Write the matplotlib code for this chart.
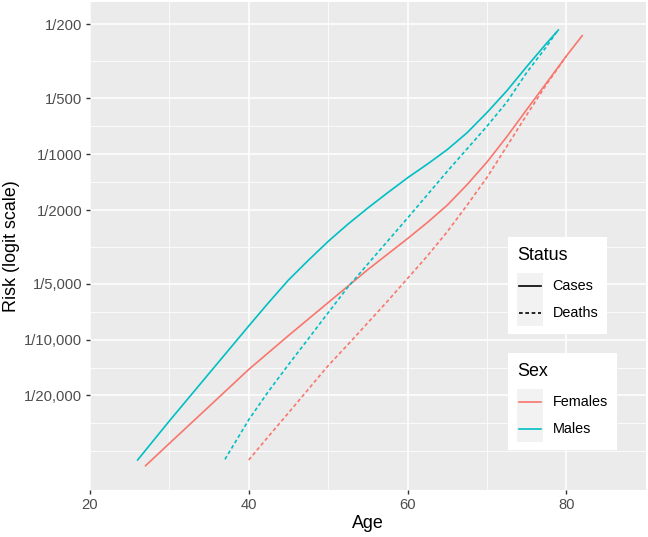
import numpy as np
import matplotlib
matplotlib.use("Agg")
import matplotlib.pyplot as plt
from matplotlib.lines import Line2D
from matplotlib.patches import Rectangle
from matplotlib.ticker import FixedLocator, FixedFormatter, NullFormatter

plt.rcParams['font.family'] = ['Liberation Sans', 'DejaVu Sans']

# ---- data: risk, stored as log-odds (natural log) ----
ages_m_cases = [26, 30, 35, 40, 42.5, 45, 47.5, 50, 52.5, 55, 57.5, 60, 62.5, 65, 67.5,
                70, 72.5, 75, 77.5, 79]
logodds_m_cases = [-10.705, -10.22, -9.63, -9.04, -8.75, -8.47, -8.225, -7.99, -7.775, -7.575,
                   -7.385, -7.20, -7.03, -6.85, -6.64, -6.39, -6.12, -5.82, -5.53, -5.364]

ages_f_cases = [27, 30, 35, 40, 45, 50, 55, 60, 62.5, 65, 67.5, 70, 72.5, 75, 77.5, 80, 82]
logodds_f_cases = [-10.776, -10.499, -10.04, -9.58, -9.16, -8.75, -8.34, -7.955, -7.755,
                   -7.54, -7.285, -7.005, -6.69, -6.354, -6.022, -5.687, -5.435]

ages_m_deaths = [37, 40, 42.5, 45, 47.5, 50, 52.5, 55, 60, 62.5, 65, 67.5, 70, 72.5, 75, 77.5, 78.8]
logodds_m_deaths = [-10.697, -10.205, -9.85, -9.521, -9.20, -8.876, -8.556, -8.27, -7.70,
                    -7.41, -7.12, -6.84, -6.56, -6.26, -5.894, -5.571, -5.385]

ages_f_deaths = [40, 42.5, 45, 47.5, 50, 52.5, 55, 57.5, 60, 62.5, 65, 67.5, 70, 72.5, 75, 77.5, 80]
logodds_f_deaths = [-10.705, -10.41, -10.12, -9.827, -9.534, -9.27, -9.00, -8.73, -8.45,
                    -8.17, -7.87, -7.54, -7.196, -6.81, -6.42, -6.04, -5.69]

y_break_denoms = [200, 500, 1000, 2000, 5000, 10000, 20000]
y_break_labels = ["1/200", "1/500", "1/1000", "1/2000", "1/5,000", "1/10,000", "1/20,000"]
x_breaks = [20, 40, 60, 80]

status_labels = ["Cases", "Deaths"]
sex_labels = ["Females", "Males"]

COL_F = "#F8766D"
COL_M = "#00BFC4"

W, H = 648, 537
fig = plt.figure(figsize=(W / 100, H / 100), dpi=100)

def fx(px):
    return px / W

def fy(py):
    return 1 - py / H

def logit(p):
    p = np.asarray(p, dtype=float)
    return np.log(p / (1 - p))

def expit(x):
    return 1 / (1 + np.exp(-np.asarray(x, dtype=float)))

# panel
pl, pr, pt, pb = 90, 645.7, 2, 490
ax = fig.add_axes([fx(pl), fy(pb), (pr - pl) / W, (pb - pt) / H])
ax.set_facecolor("#EBEBEB")
ax.set_yscale("logit")

lw = 1.2
dash = (2.2, 1.6)
ax.plot(ages_f_cases, expit(logodds_f_cases), color=COL_F, lw=lw, zorder=3)
ax.plot(ages_m_cases, expit(logodds_m_cases), color=COL_M, lw=lw, zorder=3)
ax.plot(ages_f_deaths, expit(logodds_f_deaths), color=COL_F, lw=lw, dashes=dash, zorder=3)
ax.plot(ages_m_deaths, expit(logodds_m_deaths), color=COL_M, lw=lw, dashes=dash, zorder=3)

ax.set_xlim(20, 90)
ax.set_ylim(expit(-11.078), expit(-5.016))

major_p = 1 / np.array(y_break_denoms, float)
ax.yaxis.set_major_locator(FixedLocator(major_p))
ax.yaxis.set_major_formatter(FixedFormatter(y_break_labels))
# ggplot-style minor breaks: logit midpoints, plus one extension below
Lm = np.sort(logit(major_p))
bd = Lm[1] - Lm[0]
ext = np.concatenate([[Lm[0] - bd], Lm, [Lm[-1] + bd]])
mids = (ext[:-1] + ext[1:]) / 2
minor_L = np.concatenate([mids, [Lm[0] - bd]])
ax.yaxis.set_minor_locator(FixedLocator(expit(minor_L)))
ax.yaxis.set_minor_formatter(NullFormatter())

ax.xaxis.set_major_locator(FixedLocator(x_breaks))
ax.xaxis.set_minor_locator(FixedLocator([30, 50, 70]))

ax.grid(True, which="major", color="white", lw=1.1)
ax.grid(True, which="minor", color="white", lw=0.55)
ax.set_axisbelow(True)
for s in ax.spines.values():
    s.set_visible(False)
ax.tick_params(which="major", length=3, width=1.0, color="#333333",
               labelsize=10.6, labelcolor="#4D4D4D", pad=2.5)
ax.tick_params(which="minor", length=0)

fig.text(fx(12), fy((pt + pb) / 2), "Risk (logit scale)", rotation=90,
         ha="center", va="center", fontsize=12.9)
fig.text(fx((pl + pr) / 2), fy(524), "Age", ha="center", va="center", fontsize=12.9)

# ---- legends (drawn manually, ggplot style) ----
def legend_box(x0, y0, x1, y1, title, title_y, keys_top, labels, styles):
    fig.add_artist(Rectangle((fx(x0), fy(y1)), (x1 - x0) / W, (y1 - y0) / H,
                             transform=fig.transFigure, facecolor="white",
                             edgecolor="none", zorder=5))
    fig.text(fx(517.5), fy(title_y), title, ha="left", va="center",
             fontsize=12.9, zorder=6)
    kh = 26.2
    fig.add_artist(Rectangle((fx(516.7), fy(keys_top + kh * len(labels))),
                             26.6 / W, kh * len(labels) / H,
                             transform=fig.transFigure, facecolor="#F2F2F2",
                             edgecolor="none", zorder=6))
    for i, (lab, st) in enumerate(zip(labels, styles)):
        yc = keys_top + kh * (i + 0.5)
        ln = Line2D([fx(519), fx(541)], [fy(yc), fy(yc)], transform=fig.transFigure,
                    lw=lw, zorder=7, **st)
        fig.add_artist(ln)
        fig.text(fx(552.7), fy(yc), lab, ha="left", va="center", fontsize=10.4, zorder=7)

legend_box(508, 237, 607, 334, "Status", 255, 273.3, status_labels,
           [dict(color="black"), dict(color="black", dashes=dash)])
legend_box(508, 353.3, 616.7, 450, "Sex", 372, 389.3, sex_labels,
           [dict(color=COL_F), dict(color=COL_M)])

fig.savefig("out.png", dpi=100)
